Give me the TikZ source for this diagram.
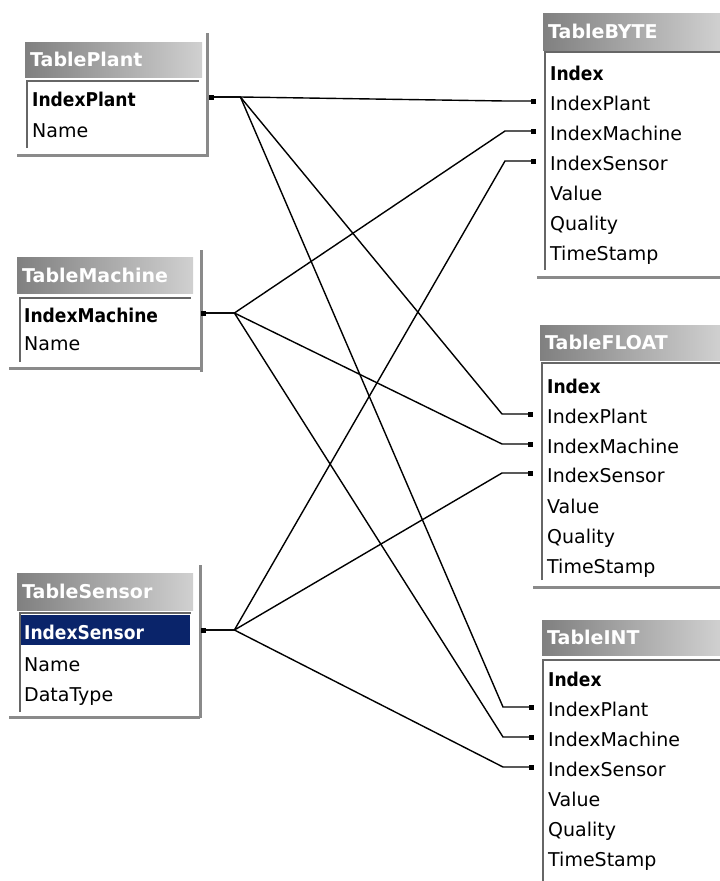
\documentclass[tikz,border=0pt]{standalone}
\usepackage{fontspec}
\setmainfont{DejaVu Sans}
\newfontfamily\keyfamily{DejaVu Sans Condensed}
\usepackage{tikz}
\usetikzlibrary{arrows.meta,positioning}
\definecolor{barleft}{HTML}{808080}
\definecolor{barright}{HTML}{D0D0D0}
\definecolor{framegray}{HTML}{8A8A8A}
\definecolor{edgegray}{HTML}{666666}
\definecolor{selnavy}{HTML}{0A246A}

\begin{document}
\begin{tikzpicture}[
  x=1pt, y=-1pt,
  titlebar/.style={
    anchor=north west,
    left color=barleft,
    right color=barright,
    text=white,
    font=\fontsize{19}{22}\selectfont\bfseries,
    inner xsep=5pt,
    align=left
  },
  field/.style={
    anchor=west,
    font=\fontsize{19}{22}\selectfont,
    text height=18pt,
    text depth=0pt,
    inner xsep=5pt,
    inner ysep=0pt,
    align=left
  },
  keyfield/.style={
    field,
    font=\fontsize{19}{22}\selectfont\keyfamily\bfseries
  },
  framecap/.style={
    draw=framegray,
    line width=3pt
  },
  bodyedge/.style={
    draw=edgegray,
    line width=2pt
  },
  link/.style={
    {Square[length=5pt,width=5pt]}-{Square[length=5pt,width=5pt]},
    line width=1.4pt
  }
]
  \useasboundingbox (0,0) rectangle (720,881);

  % ----------------------------------------------------
  % MASTER TABLES (left)
  % ----------------------------------------------------
  % TablePlant
  \draw[framecap] (207,33) -- (207,157);
  \draw[framecap] (17,155) -- (207,155);
  \draw[bodyedge] (27,148) -- (27,81) -- (199,81);
  \node[titlebar, text width=167pt, minimum height=35pt] (plant) at (25,42) {TablePlant};
  \node[keyfield, text width=170pt] (pkey) at (27,97) {IndexPlant};
  \node[field] (pname) at (27,128) {Name};

  % TableMachine
  \draw[framecap] (201,250) -- (201,372);
  \draw[framecap] (9,368) -- (201,368);
  \draw[bodyedge] (20,362) -- (20,298) -- (191,298);
  \node[titlebar, text width=166pt, minimum height=36pt] (machine) at (17,257) {TableMachine};
  \node[keyfield, text width=172pt] (mkey) at (19,313) {IndexMachine};
  \node[field] (mname) at (19,341) {Name};

  % TableSensor
  \draw[framecap] (200,565) -- (200,718);
  \draw[framecap] (9,717) -- (200,717);
  \draw[bodyedge] (20,712) -- (20,613) -- (191,613);
  \node[titlebar, text width=166pt, minimum height=37pt] (sensor) at (17,573) {TableSensor};
  \node[keyfield, text width=163pt, inner xsep=3pt, minimum height=30pt,
        fill=selnavy, text=white] (skey) at (21,630) {IndexSensor};
  \node[field] (sname) at (19,662) {Name};
  \node[field] (stype) at (19,692) {DataType};

  % ----------------------------------------------------
  % VALUE TABLES (right)
  % ----------------------------------------------------
  % TableBYTE
  \draw[framecap] (537,277) -- (720,277);
  \draw[bodyedge] (545,270) -- (545,52) -- (720,52);
  \node[titlebar, text width=167pt, minimum height=37pt] (tbyte) at (543,13) {TableBYTE};
  \node[keyfield] (bindex) at (545,71) {Index};
  \node[field] (bplant) at (545,101) {IndexPlant};
  \node[field] (bmachine) at (545,131) {IndexMachine};
  \node[field] (bsensor) at (545,161) {IndexSensor};
  \node[field] (bvalue) at (545,191) {Value};
  \node[field] (bquality) at (545,221) {Quality};
  \node[field] (bstamp) at (545,251) {TimeStamp};

  % TableFLOAT
  \draw[framecap] (533,587) -- (720,587);
  \draw[bodyedge] (542,580) -- (542,363) -- (720,363);
  \node[titlebar, text width=170pt, minimum height=35pt] (tfloat) at (540,325) {TableFLOAT};
  \node[keyfield] (findex) at (542,384) {Index};
  \node[field] (fplant) at (542,414) {IndexPlant};
  \node[field] (fmachine) at (542,444) {IndexMachine};
  \node[field] (fsensor) at (542,473) {IndexSensor};
  \node[field] (fvalue) at (542,504) {Value};
  \node[field] (fquality) at (542,534) {Quality};
  \node[field] (fstamp) at (542,564) {TimeStamp};

  % TableINT
  \draw[bodyedge] (543,881) -- (543,660) -- (720,660);
  \node[titlebar, text width=168pt, minimum height=35pt] (tint) at (542,620) {TableINT};
  \node[keyfield] (iindex) at (543,677) {Index};
  \node[field] (iplant) at (543,707) {IndexPlant};
  \node[field] (imachine) at (543,737) {IndexMachine};
  \node[field] (isensor) at (543,767) {IndexSensor};
  \node[field] (ivalue) at (543,797) {Value};
  \node[field] (iquality) at (543,827) {Quality};
  \node[field] (istamp) at (543,857) {TimeStamp};

  % ----------------------------------------------------
  % RELATIONSHIPS
  % ----------------------------------------------------
  % IndexPlant
  \draw[link] ([xshift=2pt]pkey.east) -- ++(31,0) -- ([xshift=-40pt]bplant.west) -- ([xshift=-9pt]bplant.west);
  \draw[link] ([xshift=2pt]pkey.east) -- ++(31,0) -- ([xshift=-40pt]fplant.west) -- ([xshift=-9pt]fplant.west);
  \draw[link] ([xshift=2pt]pkey.east) -- ++(31,0) -- ([xshift=-40pt]iplant.west) -- ([xshift=-9pt]iplant.west);

  % IndexMachine
  \draw[link] (mkey.east) -- ++(33,0) -- ([xshift=-40pt]bmachine.west) -- ([xshift=-9pt]bmachine.west);
  \draw[link] (mkey.east) -- ++(33,0) -- ([xshift=-40pt]fmachine.west) -- ([xshift=-9pt]fmachine.west);
  \draw[link] (mkey.east) -- ++(33,0) -- ([xshift=-40pt]imachine.west) -- ([xshift=-9pt]imachine.west);

  % IndexSensor
  \draw[link] ([xshift=11pt]skey.east) -- ++(33,0) -- ([xshift=-40pt]bsensor.west) -- ([xshift=-9pt]bsensor.west);
  \draw[link] ([xshift=11pt]skey.east) -- ++(33,0) -- ([xshift=-40pt]fsensor.west) -- ([xshift=-9pt]fsensor.west);
  \draw[link] ([xshift=11pt]skey.east) -- ++(33,0) -- ([xshift=-40pt]isensor.west) -- ([xshift=-9pt]isensor.west);

\end{tikzpicture}
\end{document}
